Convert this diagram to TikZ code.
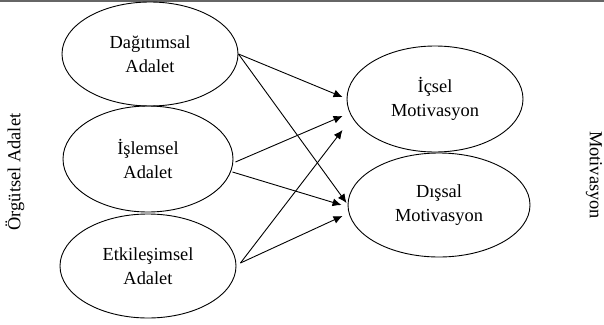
\documentclass[tikz,border=0pt]{standalone}
\usepackage{fontspec}
\setmainfont{Liberation Serif}
\usetikzlibrary{shapes.geometric,arrows.meta}
\begin{document}
\begin{tikzpicture}[x=1pt,y=-1pt,
  oval/.style={ellipse,draw,line width=0.9pt,inner sep=0pt,align=center,
    font=\fontsize{18.4}{23.5}\selectfont},
  side/.style={font=\fontsize{18.4}{22}\selectfont,inner sep=0pt},
  arr/.style={-{Latex[length=9pt,width=8pt]},line width=0.9pt}]
\useasboundingbox (0,0) rectangle (604,324);
\fill[white] (0,0) rectangle (604,324);
\draw[gray!80!black,line width=1.5pt] (0,0.75) -- (604,0.75);

\node[oval,minimum width=176,minimum height=104] (d) at (150,54) {Dağıtımsal\\Adalet};
\node[oval,minimum width=170,minimum height=106] (l) at (148,159) {İşlemsel\\Adalet};
\node[oval,minimum width=176,minimum height=104] (e) at (148,266) {Etkileşimsel\\Adalet};
\node[oval,minimum width=176,minimum height=106] (i) at (435,99) {İçsel\\Motivasyon};
\node[oval,minimum width=182,minimum height=104] (x) at (439,205) {Dışsal\\Motivasyon};

\node[side,rotate=90] (ol) at (15,172) {Örgütsel Adalet};
\node[side,rotate=-90] (mr) at (594,175) {Motivasyon};

\draw[arr] (d.east) -- ([xshift=-4pt,yshift=2pt]i.west);
\draw[arr] (d.east) -- ([xshift=-1pt,yshift=2pt]x.west);
\draw[arr] ([xshift=2pt,yshift=-3pt]l.east) -- ([xshift=-4pt,yshift=-17pt]i.west);
\draw[arr] ([xshift=-1pt,yshift=-13pt]l.east) -- ([xshift=-6pt]x.west);
\draw[arr] ([xshift=4pt,yshift=3pt]e.east) -- ([xshift=-4pt,yshift=-31pt]i.west);
\draw[arr] ([xshift=4pt,yshift=3pt]e.east) -- ([xshift=-5pt,yshift=-11pt]x.west);
\end{tikzpicture}
\end{document}
